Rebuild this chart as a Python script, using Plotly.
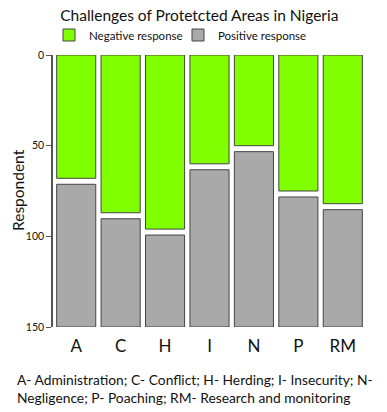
import plotly.graph_objects as go

categories = ["A", "C", "H", "I", "N", "P", "RM"]
negative = [68, 87, 96, 60, 50, 75, 82]
total = 150
positive = [total - n for n in negative]
ytick_vals = [0, 50, 100, 150]

GAP = 3.3  # visual separation between the two blocks
FONT = "Lato"

fig = go.Figure()
fig.add_trace(go.Bar(
    x=categories, y=negative, base=[0] * len(negative),
    name="Negative response",
    marker=dict(color="#7FFF00", line=dict(color="#444444", width=1)),
))
fig.add_trace(go.Bar(
    x=categories, y=[p - GAP for p in positive], base=[n + GAP for n in negative],
    name="Positive response",
    marker=dict(color="#A9A9A9", line=dict(color="#444444", width=1)),
))

W, H = 387, 412
L, R, T, B = 52, 22, 55, 85
plot_w = W - L - R
plot_h = H - T - B

fig.update_layout(
    width=W, height=H,
    barmode="overlay",
    bargap=0.12,
    margin=dict(l=L, r=R, t=T, b=B, autoexpand=False),
    paper_bgcolor="white", plot_bgcolor="white",
    font=dict(family=FONT, color="#111111"),
    title=dict(text="Challenges of Protetcted Areas in Nigeria", x=0.515, xref="container",
               xanchor="center", y=1 - 16 / H, yref="container", yanchor="middle",
               font=dict(size=15.5, family=FONT, color="#111111")),
    showlegend=True,
    legend=dict(orientation="h", x=49 / W, xref="container", y=1 - 35 / H, yref="container",
                yanchor="middle", xanchor="left", font=dict(size=11.5, family=FONT),
                itemwidth=30, entrywidth=84, entrywidthmode="pixels",
                tracegroupgap=0, bgcolor="rgba(0,0,0,0)"),
    xaxis=dict(domain=[2 / plot_w, 1], showline=False, ticks="", showgrid=False,
               tickfont=dict(size=17, family=FONT, color="#111111"), ticklabelstandoff=7,
               range=[-0.5, 6.5]),
    yaxis=dict(range=[total, 0], anchor="free", position=0, showline=True,
               linecolor="#555555", linewidth=1.5, ticks="outside", ticklen=5,
               tickcolor="#555555", tickvals=ytick_vals, showgrid=False, zeroline=False,
               tickfont=dict(size=10.5, family=FONT, color="#111111")),
    annotations=[
        dict(text="Respondent", textangle=-90, xref="paper", yref="paper",
             x=(18 - L) / plot_w, y=(H - B - 190) / plot_h, xanchor="center", yanchor="middle",
             showarrow=False, font=dict(size=15.5, family=FONT, color="#111111")),
        dict(
            text="A- Administration; C- Conflict; H- Herding; I- Insecurity; N-<br>Negligence; P- Poaching; RM- Research and monitoring",
            xref="paper", yref="paper", x=-(L - 15) / plot_w, y=-(369 - (H - B)) / plot_h,
            xanchor="left", yanchor="top",
            align="left", showarrow=False, font=dict(size=13.8, family=FONT, color="#111111")),
    ],
)

fig.write_html("out.html", post_script="document.body.style.margin='0';",
               config={"displayModeBar": False})
